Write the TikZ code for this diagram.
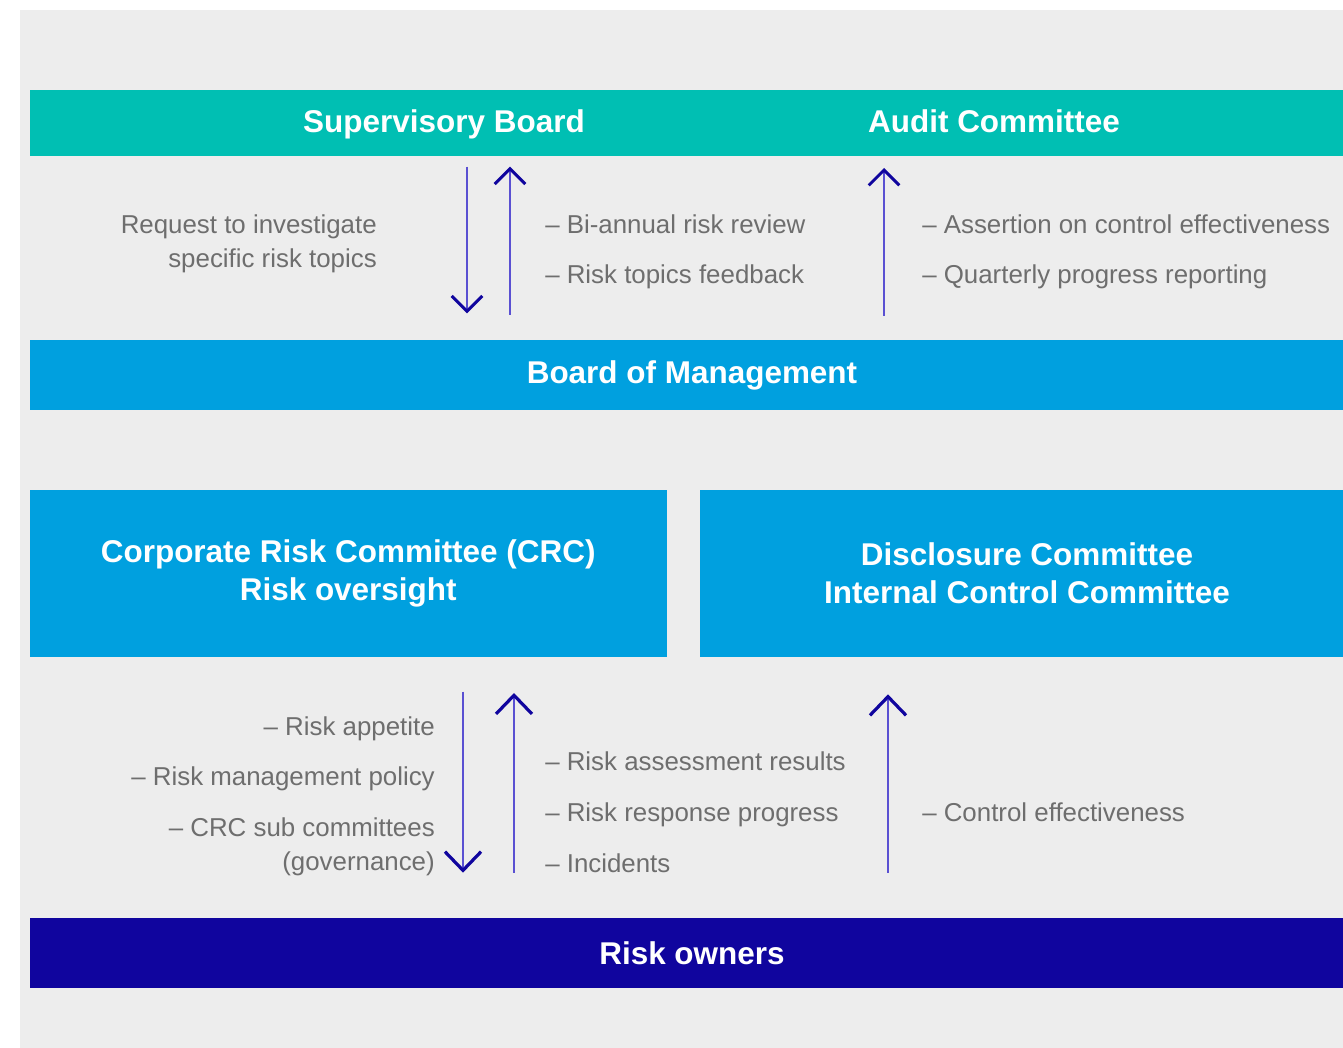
\documentclass[tikz,border=0pt]{standalone}
\usepackage{fontspec}
\setmainfont{Liberation Sans}
\usetikzlibrary{arrows.meta,positioning}
\definecolor{bggrey}{HTML}{EDEDED}
\definecolor{teal}{HTML}{00BFB3}
\definecolor{sky}{HTML}{00A0DF}
\definecolor{navy}{HTML}{10059E}
\definecolor{shaft}{HTML}{5A50D2}
\definecolor{txtgrey}{HTML}{6E6E6E}

\tikzset{
  bar/.style={inner sep=0pt,outer sep=0pt,minimum width=993.75pt,minimum height=52.5pt},
  head/.style={font=\fontsize{23.6}{28.5}\selectfont\bfseries,text=white,align=center},
  note/.style={font=\fontsize{19.4}{25.5}\selectfont,text=txtgrey,inner sep=0pt},
  flow/.style={shaft,line width=1.5pt,-{Straight Barb[length=11.5pt,width=23pt,line width=2.2pt,color=navy]}},
  bigflow/.style={shaft,line width=1.5pt,-{Straight Barb[length=14pt,width=27pt,line width=2.4pt,color=navy]}},
}

\begin{document}
\begin{tikzpicture}[x=0.75pt,y=-0.75pt]
  \useasboundingbox (0,0) rectangle (1343,1048);
  \fill[bggrey] (19.5,10) rectangle (1343,1048);

  % bars and boxes
  \node[bar,fill=teal,minimum height=49.5pt] (topbar) at (692,123) {};
  \node[head] (sb) at (444,124) {Supervisory Board};
  \node[head] (ac) at (994,121) {Audit Committee};
  \node[bar,fill=sky,head] (bom) at (692,375) {Board of Management};
  \node[fill=sky,head,inner sep=0pt,outer sep=0pt,minimum width=478.1pt,minimum height=125.25pt] (crc) at (348.25,573.5)
    {Corporate Risk Committee (CRC)\\Risk oversight};
  \node[fill=sky,head,inner sep=0pt,outer sep=0pt,minimum width=490.5pt,minimum height=125.25pt] (dc) at (1027,573.5)
    {Disclosure Committee\\Internal Control Committee};
  \node[bar,fill=navy,head] (ro) at (692,953) {Risk owners};

  % arrow positions
  \coordinate (a1) at (467,0);
  \coordinate (a2) at (510,0);
  \coordinate (a3) at (884,0);
  \coordinate (b1) at (463,0);
  \coordinate (b2) at (514,0);
  \coordinate (b3) at (888,0);

  \draw[flow,shorten <=8pt,shorten >=20pt] (topbar.south -| a1) -- (bom.north -| a1);
  \draw[flow,shorten <=19pt,shorten >=8pt] (bom.north -| a2) -- (topbar.south -| a2);
  \draw[flow,shorten <=18pt,shorten >=9pt] (bom.north -| a3) -- (topbar.south -| a3);

  \draw[bigflow,shorten <=26pt,shorten >=34pt] (crc.south -| b1) -- (ro.north -| b1);
  \draw[bigflow,shorten <=34pt,shorten >=27pt] (ro.north -| b2) -- (crc.south -| b2);
  \draw[bigflow,shorten <=34pt,shorten >=28pt] (ro.north -| b3) -- (dc.south -| b3);

  % upper notes
  \node[note,align=right,anchor=east] (req) at (377,244) {Request to investigate\\specific risk topics};
  \node[note,anchor=west] (bi) at (545,224) {-- Bi-annual risk review};
  \node[note,anchor=west] (rtf) at (545,277) {-- Risk topics feedback};
  \node[note,anchor=west] (ass) at (922,224) {-- Assertion on control effectiveness};
  \node[note,anchor=west] (qpr) at (922,277) {-- Quarterly progress reporting};

  % lower notes
  \node[note,anchor=east] (app) at (435,729) {-- Risk appetite};
  \node[note,anchor=east] (rmp) at (435,779) {-- Risk management policy};
  \node[note,anchor=east,align=right] (sub) at (435,846.5) {-- CRC sub committees\\(governance)};
  \node[note,anchor=west] (rar) at (545,761) {-- Risk assessment results};
  \node[note,anchor=west] (rrp) at (545,815) {-- Risk response progress};
  \node[note,anchor=west] (inc) at (545,863) {-- Incidents};
  \node[note,anchor=west] (ce) at (922,812) {-- Control effectiveness};
\end{tikzpicture}
\end{document}
